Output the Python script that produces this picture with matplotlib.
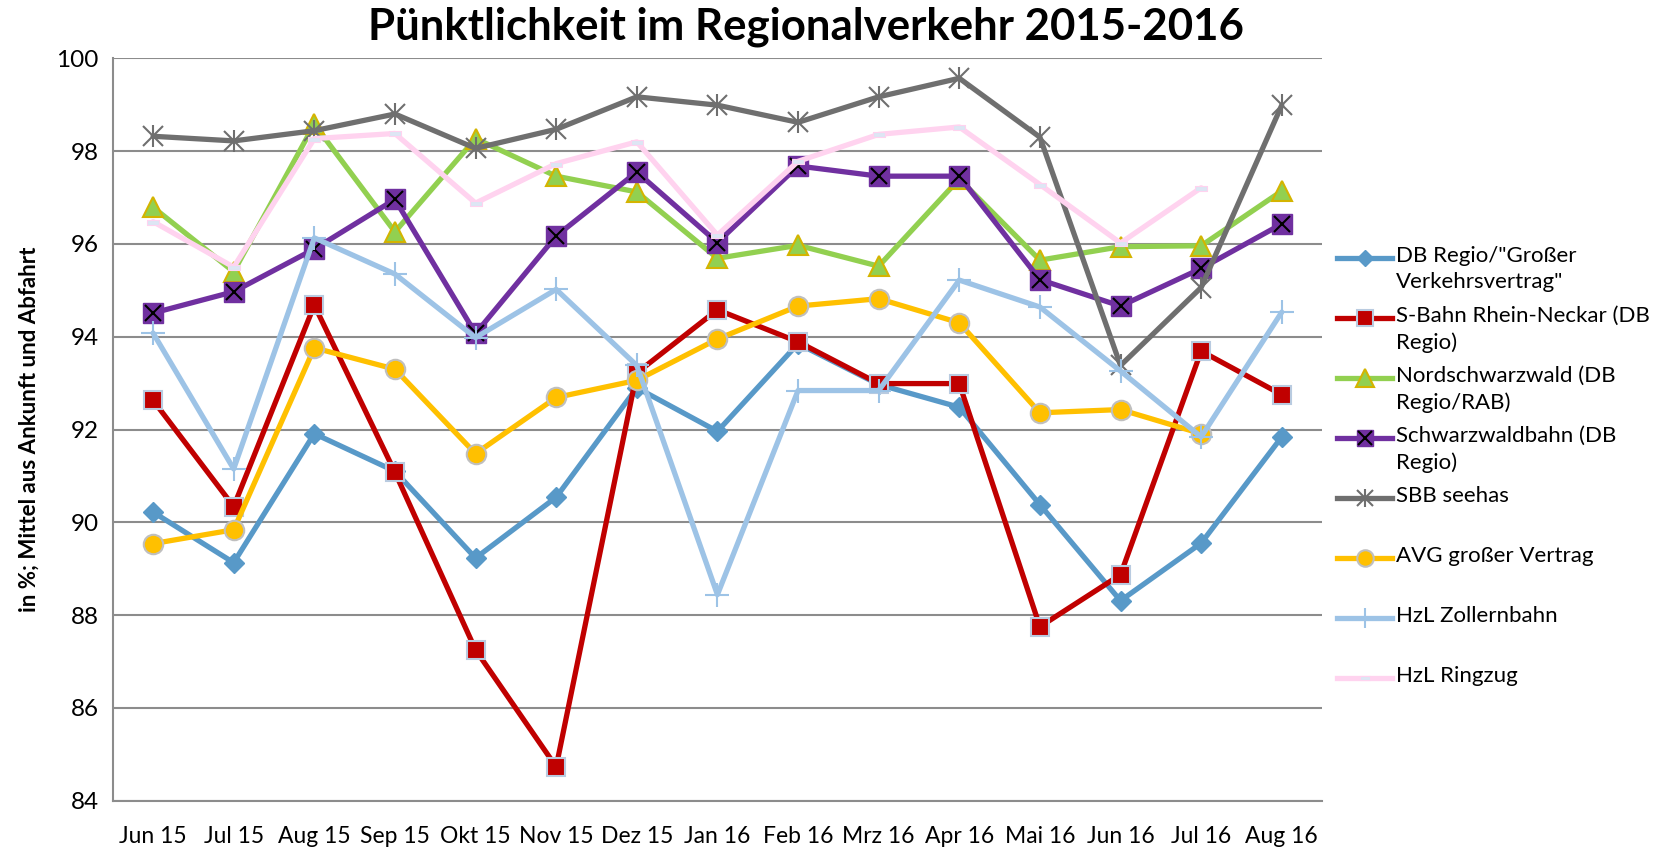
import numpy as np
import matplotlib
matplotlib.use("Agg")
import matplotlib.pyplot as plt
from matplotlib.lines import Line2D
from matplotlib.path import Path

plt.rcParams['font.family'] = ['Lato', 'DejaVu Sans']

# Data
#-----------------------------------
months = ["Jun 15", "Jul 15", "Aug 15", "Sep 15", "Okt 15", "Nov 15", "Dez 15", "Jan 16",
          "Feb 16", "Mrz 16", "Apr 16", "Mai 16", "Jun 16", "Jul 16", "Aug 16"]

db_regio = [90.22, 89.13, 91.91, 91.10, 89.23, 90.54, 92.90, 91.96, 93.85, 92.97, 92.48, 90.38, 88.31, 89.55, 91.84]
s_bahn = [92.63, 90.34, 94.68, 91.08, 87.25, 84.73, 93.22, 94.58, 93.89, 92.99, 92.99, 87.75, 88.87, 93.69, 92.75]
nordschwarzwald = [96.79, 95.40, 98.58, 96.26, 98.27, 97.46, 97.12, 95.69, 95.97, 95.52, 97.40, 95.65, 95.94, 95.96, 97.14]
schwarzwaldbahn = [94.51, 94.97, 95.89, 96.96, 94.07, 96.17, 97.55, 96.03, 97.68, 97.46, 97.46, 95.23, 94.66, 95.47, 96.43]
sbb_seehas = [98.32, 98.22, 98.44, 98.80, 98.06, 98.47, 99.17, 98.99, 98.62, 99.17, 99.57, 98.30, 93.38, 95.06, 98.99]
avg = [89.54, 89.84, 93.76, 93.30, 91.48, 92.69, 93.06, 93.95, 94.66, 94.82, 94.30, 92.36, 92.43, 91.91, np.nan]
zollernbahn = [94.08, 91.15, 96.13, 95.35, 93.98, 95.02, 93.38, 88.44, 92.84, 92.84, 95.22, 94.64, 93.26, 91.84, 94.53]
ringzug = [96.48, 95.50, 98.27, 98.38, 96.88, 97.73, 98.20, 96.19, 97.78, 98.36, 98.52, 97.28, 96.02, 97.21, np.nan]

labels = ['DB Regio/"Großer\nVerkehrsvertrag"', "S-Bahn Rhein-Neckar (DB\nRegio)",
          "Nordschwarzwald (DB\nRegio/RAB)", "Schwarzwaldbahn (DB\nRegio)", "SBB seehas",
          "AVG großer Vertrag", "HzL Zollernbahn", "HzL Ringzug"]

# small flat rectangle for the Ringzug marker
dash = Path([(-1, -0.4), (1, -0.4), (1, 0.4), (-1, 0.4), (-1, -0.4)],
            [Path.MOVETO, Path.LINETO, Path.LINETO, Path.LINETO, Path.CLOSEPOLY])

lw = 3.8
styles = [
    dict(color='#5899C8', marker='D', ms=10, mfc='#5899C8', mec='#5899C8'),
    dict(color='#C00000', marker='s', ms=13, mfc='#C00000', mec='#B9CBE0', mew=1.5),
    dict(color='#92D050', marker='^', ms=15, mfc='#92D050', mec='#D4B400', mew=1.5),
    dict(color='#7030A0', marker='s', ms=14, mfc='#7030A0', mec='#7030A0'),
    dict(color='#6F6F6F', marker='x', ms=14, mfc='#6F6F6F', mec='#6F6F6F', mew=1.5),
    dict(color='#FFC000', marker='o', ms=14, mfc='#FFC000', mec='#BFBFBF', mew=1.5),
    dict(color='#9DC3E6', marker='+', ms=17, mfc='#9DC3E6', mec='#9DC3E6', mew=1.5),
    dict(color='#FFD3EF', marker=dash, ms=9, mfc='#DDE6F4', mec='#FFD3EF', mew=0.8),
]
series = [db_regio, s_bahn, nordschwarzwald, schwarzwaldbahn, sbb_seehas, avg, zollernbahn, ringzug]

# Plot
#-----------------------------------
fig = plt.figure(figsize=(16.63, 8.5), dpi=100)
ax = fig.add_axes([0.0678, 0.058, 0.7272, 0.8734])

x = np.arange(len(months))
for i, (vals, st) in enumerate(zip(series, styles)):
    ax.plot(x, vals, linewidth=lw, solid_capstyle='round', solid_joinstyle='round',
            zorder=3 + i, **st)
    if i == 3:
        # black cross inside the purple squares
        ax.plot(x, vals, linestyle='none', marker='x', ms=12, mec='black', mew=1.5, zorder=3 + i)
    if i == 4:
        # vertical stroke of the asterisk
        ax.plot(x, vals, linestyle='none', marker='|', ms=16, mec='#6F6F6F', mew=1.5, zorder=3 + i)

ax.set_xlim(-0.5, len(months) - 0.5)
ax.set_ylim(84, 100)
ax.set_yticks(np.arange(84, 101, 2))
ax.set_xticks(x)
ax.set_xticklabels(months)
ax.tick_params(axis='both', length=0)
ax.tick_params(axis='x', pad=18, labelsize=16.5)
ax.tick_params(axis='y', pad=10, labelsize=17.5)
ax.yaxis.grid(True, color='#8C8C8C', linewidth=1.5)
ax.set_axisbelow(True)
for side in ['top', 'right']:
    ax.spines[side].set_visible(False)
for side in ['left', 'bottom']:
    ax.spines[side].set_color('#8C8C8C')
    ax.spines[side].set_linewidth(1.5)

ax.set_ylabel("in %; Mittel aus Ankunft und Abfahrt", fontsize=16, fontweight='bold', labelpad=12)
fig.text(0.4846, 0.968, "Pünktlichkeit im Regionalverkehr 2015-2016", fontsize=31.5,
         fontweight='bold', ha='center', va='center')

# Legend, drawn by hand so the handles sit on the first text line
W, H = 1663, 850
for i, (lab, st) in enumerate(zip(labels, styles)):
    yy = 1 - (258 + 60 * i) / H
    fig.add_artist(Line2D([1337 / W, 1392 / W], [yy, yy], linewidth=lw, color=st['color']))
    fig.add_artist(Line2D([1364.5 / W], [yy], linestyle='none', marker=st['marker'],
                          ms=st['ms'] * 0.85, mfc=st['mfc'], mec=st['mec'], mew=st.get('mew', 1)))
    if i == 3:
        fig.add_artist(Line2D([1364.5 / W], [yy], linestyle='none', marker='x', ms=10,
                              mec='black', mew=1.5))
    if i == 4:
        fig.add_artist(Line2D([1364.5 / W], [yy], linestyle='none', marker='|', ms=13,
                              mec='#6F6F6F', mew=1.5))
    fig.text(1396 / W, yy + 12 / H, lab, fontsize=16, ha='left', va='top', linespacing=1.38)

fig.savefig("out.png", dpi=100)
